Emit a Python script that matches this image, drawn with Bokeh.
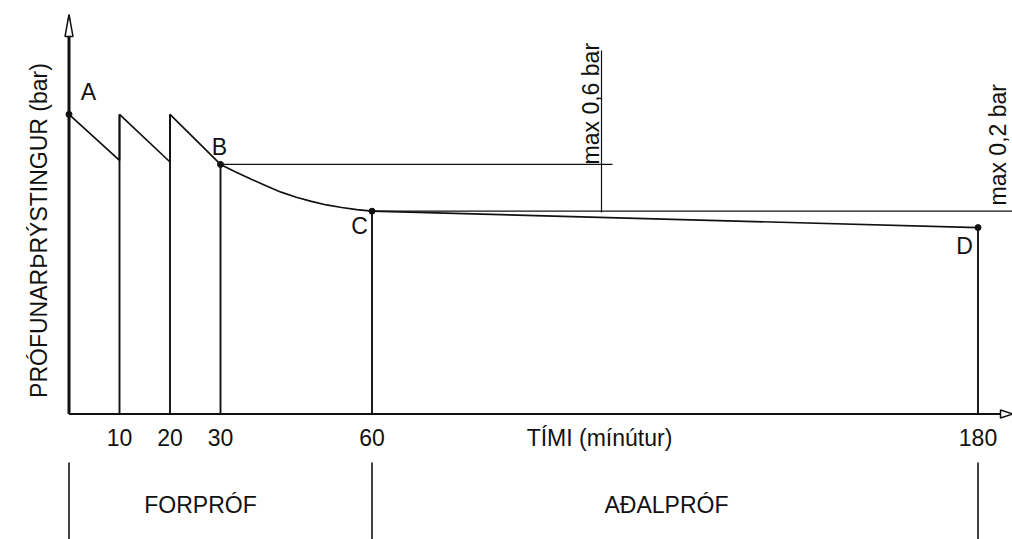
import math
from bokeh.plotting import figure
from bokeh.models import Range1d
from bokeh.core.properties import value
from bokeh.embed import file_html
from bokeh.resources import INLINE

# ---------------- data ----------------
# pre-test (FORPRÓF): three pressurisations with pressure drop
pre_t = [0, 10, 10, 20, 20, 30]
pre_p = [3.745, 3.17, 3.745, 3.15, 3.745, 3.12]
# settling curve B -> C
decay_t = [30, 33, 36, 39, 42, 45, 48, 51, 54, 57, 60]
decay_p = [3.12, 3.026, 2.938, 2.852, 2.773, 2.71, 2.657, 2.613, 2.581, 2.554, 2.535]
# main test (AÐALPRÓF) C -> D
main_t = [60, 180]
main_p = [2.535, 2.33]
# vertical lines down to the time axis
drop_t = [10, 20, 30, 60, 180]
drop_top = [3.745, 3.745, 3.12, 2.535, 2.33]
# named points
pt_names = ["A", "B", "C", "D"]
pt_t = [0, 30, 60, 180]
pt_p = [3.745, 3.12, 2.535, 2.33]
# tick labels
tick_vals = [10, 20, 30, 60, 180]
tick_labels = ["10", "20", "30", "60", "180"]
# limits
max_pre_drop = 0.6
max_main_drop = 0.2
limit_texts = ["max 0,6 bar", "max 0,2 bar"]
phase_names = ["FORPRÓF", "AÐALPRÓF"]
phase_bounds = [0, 60, 180]
x_title = "TÍMI (mínútur)"
y_title = "PRÓFUNARÞRÝSTINGUR (bar)"

# ---------------- layout helpers (pixel <-> data) ----------------
PX0, PXS = 68.5, 5.05      # page x of t=0, px per minute
PY0, PYS = 413.5, 80.0     # page y of p=0, px per bar
W, H = 1012, 539
OX, OY = 0, 0              # page position of the figure


def tx(px):
    return (px - PX0) / PXS


def py(pyv):
    return (PY0 - pyv) / PYS


FONT = value("Liberation Sans")
FS = "23px"

p = figure(width=W, height=H, x_range=Range1d(tx(OX), tx(OX + W)),
           y_range=Range1d(py(OY + H), py(OY)),
           x_axis_type=None, y_axis_type=None,
           toolbar_location=None, output_backend="svg", min_border=0)
p.outline_line_color = None
p.grid.visible = False
p.background_fill_color = "white"

K = "#111111"

# axes
p.line([0, 0], [0, py(18)], line_color=K, line_width=3)
p.line([0, tx(1006)], [0, 0], line_color=K, line_width=2)
ah = 4 / PXS
p.patch([0, -ah, ah], [py(14), py(36), py(36)], fill_color="white",
        line_color=K, line_width=1.5)
p.patch([tx(1012), tx(1000), tx(1000)], [0, 4 / PYS, -4 / PYS], fill_color="white",
        line_color=K, line_width=1.5)

# pressure curve
p.line(pre_t, pre_p, line_color=K, line_width=1.7)
p.line(decay_t, decay_p, line_color=K, line_width=1.7)
p.line(main_t, main_p, line_color=K, line_width=1.7)
p.segment(x0=drop_t, y0=[0] * len(drop_t), x1=drop_t, y1=drop_top,
          line_color=K, line_width=1.9)
p.scatter(pt_t, pt_p, size=6, color=K)

# limit construction lines
B_p, C_p = pt_p[1], pt_p[2]
t_lim1 = tx(601)
p.line([pt_t[1], tx(612)], [B_p, B_p], line_color=K, line_width=1.2)
p.line([t_lim1, t_lim1], [B_p - max_pre_drop, py(50)], line_color=K, line_width=1.2)
p.line([pt_t[2], tx(1012)], [C_p, C_p], line_color=K, line_width=1.2)

p.text([tx(590)], [B_p], text=[limit_texts[0]], angle=math.pi / 2,
       text_align="left", text_baseline="alphabetic", text_font=FONT,
       text_font_size=FS, text_color=K)
p.text([tx(997)], [py(205)], text=[limit_texts[1]], angle=math.pi / 2,
       text_align="left", text_baseline="alphabetic", text_font=FONT,
       text_font_size=FS, text_color=K)

# point labels
lab_t = [tx(88), tx(219), tx(359), tx(964)]
lab_p = [py(91), py(146), py(225), py(245)]
p.text(lab_t, lab_p, text=pt_names, text_align="center", text_baseline="middle",
       text_font=FONT, text_font_size=FS, text_color=K)

# tick labels and axis titles
p.text(tick_vals, [py(437)] * len(tick_vals), text=tick_labels, text_align="center",
       text_baseline="middle", text_font=FONT, text_font_size=FS, text_color=K)
p.text([tx(599)], [py(437)], text=[x_title], text_align="center",
       text_baseline="middle", text_font=FONT, text_font_size=FS, text_color=K)
p.text([tx(38)], [py(230)], text=[y_title], angle=math.pi / 2, text_align="center",
       text_baseline="middle", text_font=FONT, text_font_size=FS, text_color=K)

# phase section below
p.segment(x0=phase_bounds, y0=[py(462)] * 3, x1=phase_bounds, y1=[py(545)] * 3,
          line_color=K, line_width=1.6)
p.text([tx(200), tx(666)], [py(504)] * 2, text=phase_names, text_align="center",
       text_baseline="middle", text_font=FONT, text_font_size=FS, text_color=K)

open("out.html", "w").write(file_html(p, INLINE))
